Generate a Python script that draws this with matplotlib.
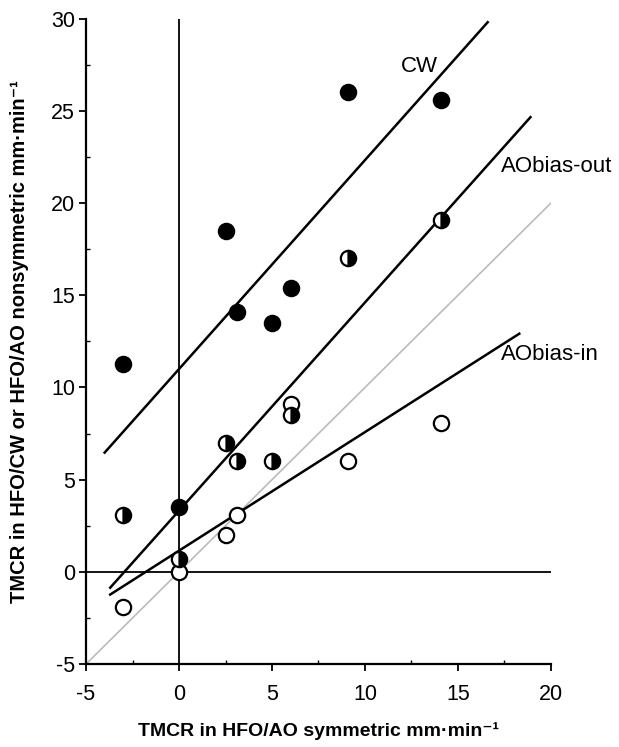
import matplotlib
matplotlib.use("Agg")
import matplotlib.pyplot as plt
from matplotlib.ticker import MultipleLocator

plt.rcParams['font.family'] = ['Liberation Sans', 'DejaVu Sans']
plt.rcParams['axes.unicode_minus'] = False

# CW (filled circles)
cw_x = [-3.0, 0.0, 2.5, 3.1, 5.0, 6.0, 9.1, 14.1]
cw_y = [11.3, 3.5, 18.5, 14.1, 13.5, 15.4, 26.0, 25.6]

# AObias-out (half filled)
out_x = [-3.0, 0.0, 2.5, 3.1, 5.0, 6.0, 9.1, 14.1]
out_y = [3.1, 0.7, 7.0, 6.0, 6.0, 8.5, 17.0, 19.1]

# AObias-in (open circles)
in_x = [-3.0, 0.0, 2.5, 3.1, 6.0, 9.1, 14.1]
in_y = [-1.9, 0.0, 2.0, 3.1, 9.1, 6.0, 8.1]

# regression lines: x start, x end, slope, intercept
fit_names = ['CW', 'AObias-out', 'AObias-in']
fit_x0 = [-4.0, -3.7, -3.7]
fit_x1 = [16.6, 18.9, 18.3]
fit_slope = [1.133, 1.129, 0.643]
fit_icpt = [11.0, 3.32, 1.15]

fig = plt.figure(figsize=(6.19, 7.47), dpi=100)
ax = fig.add_axes([0.139, 0.111, 0.751, 0.864])

ax.axvline(0, color='black', lw=1.3, zorder=1)
ax.axhline(0, color='black', lw=1.3, zorder=1)
ax.plot([-5, 20], [-5, 20], color='#bbbbbb', lw=1.2, zorder=1)

for x0, x1, m, b in zip(fit_x0, fit_x1, fit_slope, fit_icpt):
    ax.plot([x0, x1], [m * x0 + b, m * x1 + b], color='black', lw=1.8, zorder=2)

ms = 11
ax.plot(in_x, in_y, 'o', ms=ms, mfc='white', mec='black', mew=1.6, zorder=3, clip_on=False)
ax.plot(out_x, out_y, 'o', ms=ms, fillstyle='right', mfc='black', mfcalt='white',
        mec='black', mew=1.6, zorder=4, clip_on=False)
ax.plot(cw_x, cw_y, 'o', ms=ms, mfc='black', mec='black', mew=1.6, zorder=5, clip_on=False)

ax.text(12.9, 27.4, 'CW', fontsize=16, ha='center', va='center')
ax.text(17.3, 22.0, 'AObias-out', fontsize=16, ha='left', va='center')
ax.text(17.3, 11.8, 'AObias-in', fontsize=16, ha='left', va='center')

ax.set_xlim(-5, 20)
ax.set_ylim(-5, 30)
ax.xaxis.set_major_locator(MultipleLocator(5))
ax.yaxis.set_major_locator(MultipleLocator(5))
ax.xaxis.set_minor_locator(MultipleLocator(2.5))
ax.yaxis.set_minor_locator(MultipleLocator(2.5))
ax.tick_params(which='major', direction='out', length=5, width=1.3, labelsize=15.5)
ax.tick_params(axis='x', which='major', pad=9)
ax.tick_params(axis='y', which='major', pad=3)
ax.tick_params(which='minor', direction='in', length=3, width=1.0)

for s in ['top', 'right']:
    ax.spines[s].set_visible(False)
for s in ['left', 'bottom']:
    ax.spines[s].set_linewidth(1.6)

ax.set_xlabel('TMCR in HFO/AO symmetric mm·min⁻¹', fontsize=14, fontweight='bold', labelpad=13)
ax.set_ylabel('TMCR in HFO/CW or HFO/AO nonsymmetric mm·min⁻¹', fontsize=14.5,
              fontweight='bold', labelpad=16)

fig.savefig('out.png', dpi=100)
